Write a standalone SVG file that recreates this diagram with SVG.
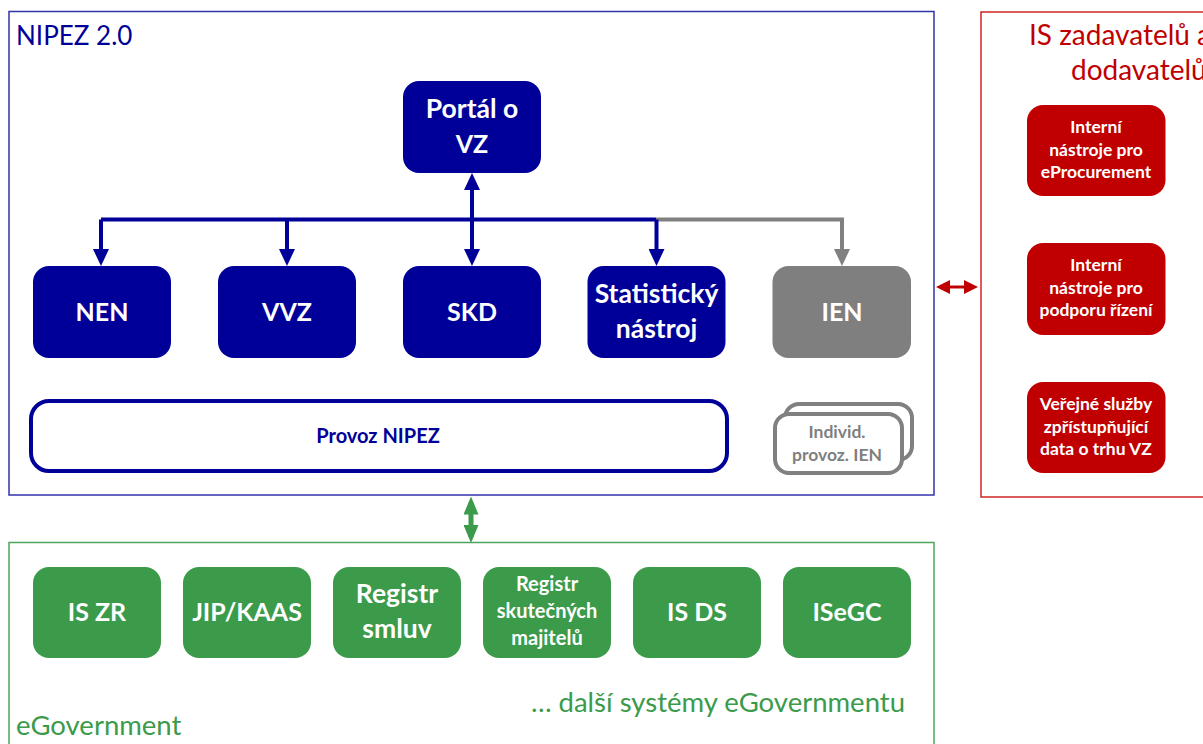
<svg xmlns="http://www.w3.org/2000/svg" width="1203" height="744" viewBox="0 0 1203 744">
<style>
text{font-family:Lato,"Open Sans","Liberation Sans",sans-serif;}
.t{font-weight:700;fill:#fff;text-anchor:middle;}
.big{font-size:25px;}
.bigl{font-size:26.5px;}
.mid{font-size:20px;}
.sm{font-size:17.5px;}
.blue{fill:#000099;}
.grey{fill:#7f7f7f;}
.red{fill:#c00000;}
.green{fill:#3b9b4b;}
.title{font-size:26px;}
.rt{font-size:28px;}
.gt{font-size:27.5px;}
</style>
<defs>
<marker id="ab" markerUnits="userSpaceOnUse" markerWidth="17" markerHeight="16" viewBox="0 0 17 16" refX="11" refY="8" orient="auto-start-reverse"><path d="M0,0L17,8L0,16z" fill="#000099"/></marker>
<marker id="ag" markerUnits="userSpaceOnUse" markerWidth="17" markerHeight="16" viewBox="0 0 17 16" refX="11" refY="8" orient="auto-start-reverse"><path d="M0,0L17,8L0,16z" fill="#808080"/></marker>
<marker id="ar" markerUnits="userSpaceOnUse" markerWidth="14" markerHeight="14" viewBox="0 0 14 14" refX="9" refY="7" orient="auto-start-reverse"><path d="M0,0L14,7L0,14z" fill="#c00000"/></marker>
<marker id="agr" markerUnits="userSpaceOnUse" markerWidth="18" markerHeight="15" viewBox="0 0 18 15" refX="12" refY="7.5" orient="auto-start-reverse"><path d="M0,0L18,7.5L0,15z" fill="#3b9b4b"/></marker>
</defs>
<rect width="1203" height="744" fill="#fff"/>

<g id="frame-nipez">
<rect x="9" y="11.5" width="925" height="483.5" fill="none" stroke="#3333aa" stroke-width="1.5"/>
<text x="16" y="45" class="title blue">NIPEZ 2.0</text>
</g>
<g id="frame-is">
<rect x="981" y="12" width="240" height="485" fill="none" stroke="#d02424" stroke-width="1.5"/>
<text x="1029" y="45" class="rt red">IS zadavatelů a</text>
<text x="1071" y="80" class="rt red">dodavatelů</text>
</g>
<g id="frame-egov">
<rect x="9" y="542.5" width="925" height="220" fill="none" stroke="#4fa45c" stroke-width="1.5"/>
<text x="905" y="712" class="gt green" text-anchor="end">… další systémy eGovernmentu</text>
<text x="16" y="735" class="gt green">eGovernment</text>
</g>

<g id="connectors" fill="none" stroke-width="4">
<path d="M101,219.5H656" stroke="#000099"/>
<path d="M656,219.5H842V260" stroke="#808080" marker-end="url(#ag)"/>
<path d="M101,219.5V260" stroke="#000099" marker-end="url(#ab)"/>
<path d="M287,219.5V260" stroke="#000099" marker-end="url(#ab)"/>
<path d="M656.5,219.5V260" stroke="#000099" marker-end="url(#ab)"/>
<path d="M472,179V260" stroke="#000099" marker-start="url(#ab)" marker-end="url(#ab)"/>
<path d="M941,287H973" stroke="#c00000" stroke-width="3" marker-start="url(#ar)" marker-end="url(#ar)"/>
<path d="M471,502.5V537" stroke="#3b9b4b" stroke-width="5" marker-start="url(#agr)" marker-end="url(#agr)"/>
</g>

<g id="portal"><rect x="403" y="81" width="138" height="92" rx="16" fill="#000099"/><text x="472" y="118" class="t bigl">Portál o</text><text x="472" y="153" class="t big">VZ</text></g>
<g id="nen"><rect x="33" y="266" width="138" height="92" rx="16" fill="#000099"/><text x="102" y="321" class="t big">NEN</text></g>
<g id="vvz"><rect x="218" y="266" width="138" height="92" rx="16" fill="#000099"/><text x="287" y="321" class="t big">VVZ</text></g>
<g id="skd"><rect x="403" y="266" width="138" height="92" rx="16" fill="#000099"/><text x="472" y="321" class="t big">SKD</text></g>
<g id="stat"><rect x="587.5" y="266" width="138" height="92" rx="16" fill="#000099"/><text x="656.5" y="303" class="t bigl">Statistický</text><text x="656.5" y="338" class="t bigl">nástroj</text></g>
<g id="ien"><rect x="772.5" y="266" width="138.5" height="92" rx="16" fill="#7f7f7f"/><text x="842" y="321" class="t big">IEN</text></g>

<g id="provoz"><rect x="31" y="401" width="696" height="70" rx="18" fill="#fff" stroke="#000099" stroke-width="4"/><text x="378" y="443" class="t mid blue">Provoz NIPEZ</text></g>
<g id="individ">
<rect x="785" y="404" width="127" height="56" rx="14" fill="#fff" stroke="#808080" stroke-width="4"/>
<rect x="775" y="414" width="127" height="59" rx="14" fill="#fff" stroke="#808080" stroke-width="4"/>
<text x="837" y="438" class="t sm grey">Individ.</text>
<text x="837" y="461" class="t sm grey">provoz. IEN</text>
</g>

<g id="int-eproc"><rect x="1027" y="105" width="138.5" height="91" rx="16" fill="#c00000"/><text x="1096" y="133" class="t sm">Interní</text><text x="1096" y="156" class="t sm">nástroje pro</text><text x="1096" y="178" class="t sm">eProcurement</text></g>
<g id="int-rizeni"><rect x="1027" y="243" width="138.5" height="92" rx="16" fill="#c00000"/><text x="1096" y="271" class="t sm">Interní</text><text x="1096" y="294" class="t sm">nástroje pro</text><text x="1096" y="316" class="t sm">podporu řízení</text></g>
<g id="verejne"><rect x="1027" y="382" width="138.5" height="91" rx="16" fill="#c00000"/><text x="1096" y="410" class="t sm">Veřejné služby</text><text x="1096" y="433" class="t sm">zpřístupňující</text><text x="1096" y="455" class="t sm">data o trhu VZ</text></g>

<g id="iszr"><rect x="33" y="567" width="128" height="91" rx="16" fill="#3b9b4b"/><text x="97" y="621" class="t big">IS ZR</text></g>
<g id="jip"><rect x="183" y="567" width="128" height="91" rx="16" fill="#3b9b4b"/><text x="247" y="621" class="t big">JIP/KAAS</text></g>
<g id="rs"><rect x="333" y="567" width="128" height="91" rx="16" fill="#3b9b4b"/><text x="397" y="603" class="t bigl">Registr</text><text x="397" y="638" class="t bigl">smluv</text></g>
<g id="rsm"><rect x="483" y="567" width="128" height="91" rx="16" fill="#3b9b4b"/><text x="547" y="591" class="t mid">Registr</text><text x="547" y="618" class="t mid">skutečných</text><text x="547" y="645" class="t mid">majitelů</text></g>
<g id="isds"><rect x="633" y="567" width="128" height="91" rx="16" fill="#3b9b4b"/><text x="697" y="621" class="t big">IS DS</text></g>
<g id="isegc"><rect x="783" y="567" width="128" height="91" rx="16" fill="#3b9b4b"/><text x="847" y="621" class="t big">ISeGC</text></g>
</svg>
